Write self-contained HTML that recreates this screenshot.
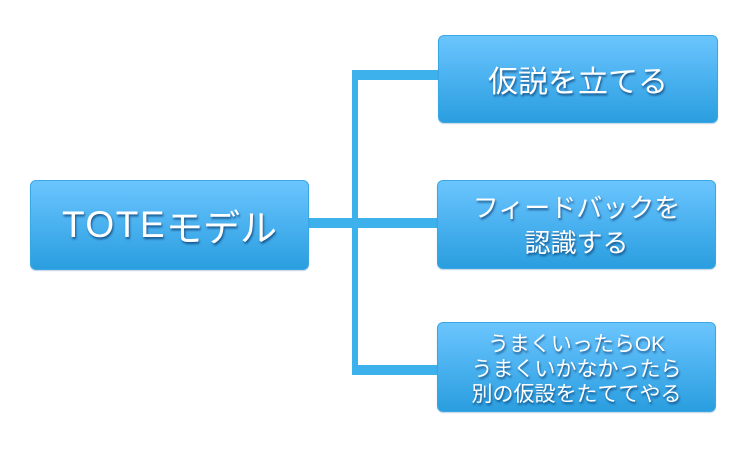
<!DOCTYPE html>
<html><head><meta charset="utf-8">
<style>
html,body{margin:0;padding:0;background:#fff;}
body{width:750px;height:450px;position:relative;overflow:hidden;font-family:"Liberation Sans","Noto Sans CJK JP",sans-serif;}
.box{position:absolute;box-sizing:border-box;border-radius:6px;border:1px solid #3aa6e4;
background:linear-gradient(to bottom,#6bc5fd 0%,#4db3f1 45%,#2a9edf 100%);
color:#fff;text-align:center;display:flex;align-items:center;justify-content:center;
text-shadow:1px 2px 2px rgba(0,40,90,0.65);box-shadow:0 1px 1px rgba(0,80,140,0.25);}
.ln{position:absolute;background:#3cb1ec;}
</style></head><body>
<div class="ln" style="left:352px;top:70px;width:6px;height:305px;"></div>
<div class="ln" style="left:352px;top:70px;width:88px;height:10px;"></div>
<div class="ln" style="left:306px;top:218px;width:134px;height:10px;"></div>
<div class="ln" style="left:352px;top:365px;width:88px;height:10px;"></div>

<div class="box" style="left:30px;top:180px;width:279px;height:90px;font-size:37px;"><span style="letter-spacing:1.5px;">TOTE</span>モデル</div>
<div class="box" style="left:438px;top:35px;width:280px;height:88px;font-size:30px;">仮説を立てる</div>
<div class="box" style="left:437px;top:180px;width:279px;height:89px;font-size:26px;line-height:35px;padding-top:3px;">フィードバックを<br>認識する</div>
<div class="box" style="left:437px;top:322px;width:279px;height:90px;font-size:21px;line-height:25px;padding-top:4px;">うまくいったらOK<br>うまくいかなかったら<br>別の仮設をたててやる</div>
</body></html>
